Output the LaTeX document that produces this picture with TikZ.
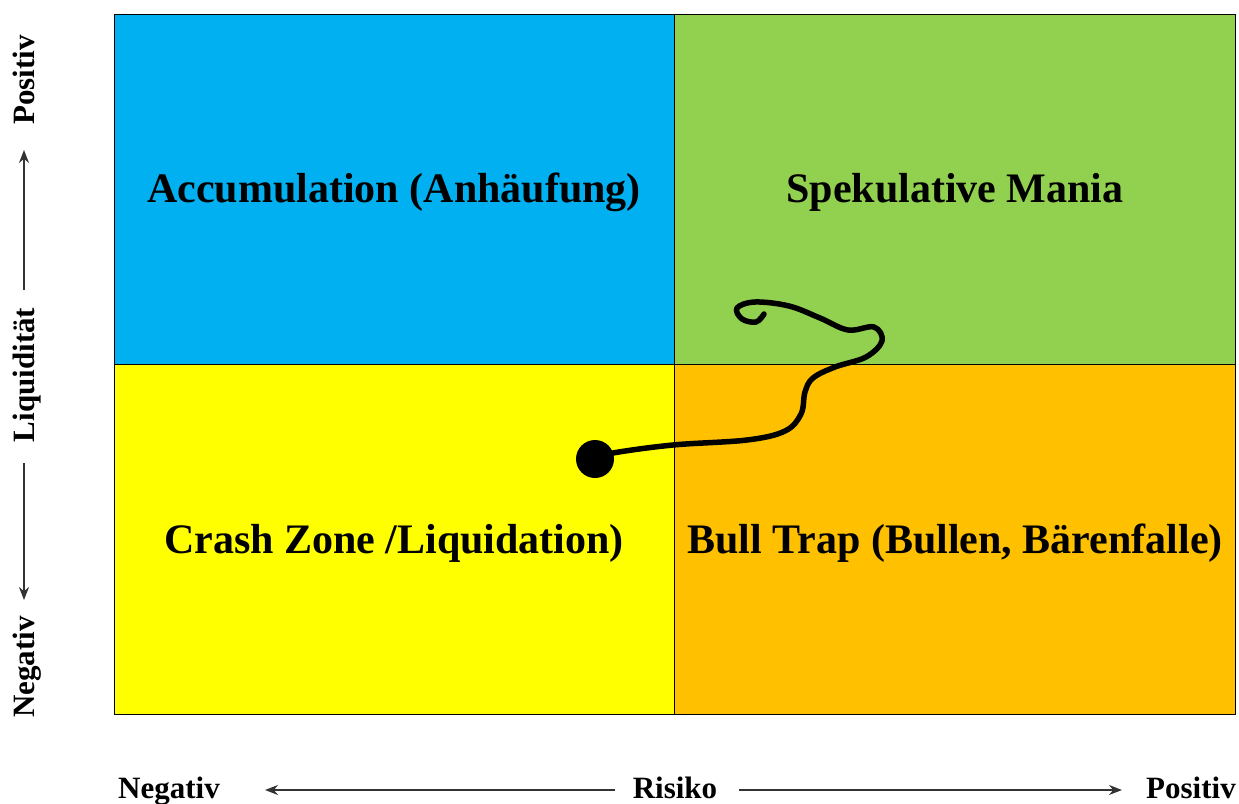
\documentclass[tikz,border=0pt]{standalone}
\usepackage{fontspec}
\setmainfont{Liberation Serif}
\usetikzlibrary{arrows.meta}
\definecolor{qblue}{HTML}{00B0F0}
\definecolor{qgreen}{HTML}{92D050}
\definecolor{qyellow}{HTML}{FFFF00}
\definecolor{qorange}{HTML}{FFC000}
\tikzset{
  cell/.style={draw=black, line width=1pt},
  celltext/.style={font=\fontsize{42}{50}\selectfont\bfseries, inner sep=0pt},
  axlabel/.style={font=\fontsize{31}{36}\selectfont\bfseries, inner sep=0pt, anchor=base},
  axarrow/.style={draw=black!80, line width=1.5pt, -{Stealth[length=13pt,width=10pt]}},
}
\begin{document}
\begin{tikzpicture}[x=1pt,y=-1pt]
\useasboundingbox (0,0) rectangle (1239,803);
\fill[white] (0,0) rectangle (1239,803);
% cells
\draw[cell, fill=qblue] (114,14) rectangle (674,364);
\draw[cell, fill=qgreen] (674,14) rectangle (1235,364);
\draw[cell, fill=qyellow] (114,364) rectangle (674,714);
\draw[cell, fill=qorange] (674,364) rectangle (1235,714);
\node[celltext] (acc) at (394,192) {Accumulation (Anhäufung)};
\node[celltext] (spek) at (955,192) {Spekulative Mania};
\node[celltext] (crash) at (394,543) {Crash Zone /Liquidation)};
\node[celltext] (bull) at (955,543) {Bull Trap (Bullen, Bärenfalle)};
% path
\node[circle, fill=black, minimum size=38pt, inner sep=0pt] (dot) at (595,459) {};
\coordinate (pend) at (764,314);
\draw[line width=5.5pt, line cap=round, line join=round] plot[smooth, tension=0.6] coordinates {
 (dot.center) (613,453) (673,445) (747,440) (785,431) (801,414) (805,392) (813,378)
 (835,367) (866,357) (882,341) (874,327) (848,330) (820,318) (789,306)
 (755,302) (737,308) (742,319) (756,322) (pend)};
% bottom axis
\node[axlabel] (bneg) at (169,798) {Negativ};
\node[axlabel] (brisk) at (675,798) {Risiko};
\node[axlabel] (bpos) at (1191,798) {Positiv};
\coordinate (bl1) at (615,790); \coordinate (bl2) at (265,790);
\coordinate (br1) at (739,790); \coordinate (br2) at (1122,790);
\draw[axarrow] (bl1) -- (bl2);
\draw[axarrow] (br1) -- (br2);
% left axis
\node[axlabel, rotate=90] (lpos) at (34,80) {Positiv};
\node[axlabel, rotate=90] (lliq) at (34,375) {Liquidität};
\node[axlabel, rotate=90] (lneg) at (34,667) {Negativ};
\coordinate (lu1) at (24,290); \coordinate (lu2) at (24,150);
\coordinate (ld1) at (24,463); \coordinate (ld2) at (24,600);
\draw[axarrow] (lu1) -- (lu2);
\draw[axarrow] (ld1) -- (ld2);
\end{tikzpicture}
\end{document}
